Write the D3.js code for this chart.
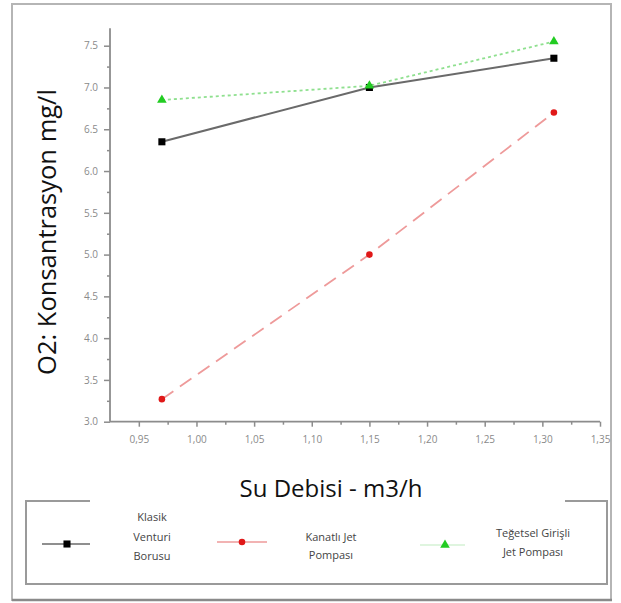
<!DOCTYPE html>
<html><head><meta charset="utf-8">
<script src="https://cdn.jsdelivr.net/npm/d3@7"></script>
<style>body{margin:0;background:#fff}svg{display:block}</style>
</head><body>
<svg id="c" width="621" height="603"></svg>
<script>
const xValues = [0.97, 1.15, 1.31];
const klasik = [6.35, 7.0, 7.35];
const kanatli = [3.27, 5.0, 6.7];
const tegetsel = [6.85, 7.02, 7.55];
const xTicks = [0.95, 1.00, 1.05, 1.10, 1.15, 1.20, 1.25, 1.30, 1.35];
const yTicks = [3.0, 3.5, 4.0, 4.5, 5.0, 5.5, 6.0, 6.5, 7.0, 7.5];
const seriesNames = [["Klasik", "Venturi", "Borusu"], ["Kanatlı Jet", "Pompası"], ["Teğetsel Girişli", "Jet Pompası"]];

const svg = d3.select("#c");
const font = "'Open Sans', sans-serif";

// outer frame
svg.append("rect").attr("x", 12).attr("y", 4).attr("width", 599).attr("height", 596)
  .attr("fill", "none").attr("stroke", "#b5b5b5").attr("stroke-width", 2);
svg.append("line").attr("x1", 12).attr("x2", 612).attr("y1", 600).attr("y2", 600)
  .attr("stroke", "#8a8a8a").attr("stroke-width", 2.5);

const x = d3.scaleLinear().domain([0.925, 1.35]).range([110, 600]);
const y = d3.scaleLinear().domain([3.0, 7.5]).range([421.7, 45.7]);

const axisColor = "#8c8c8c";
// x axis
const gx = svg.append("g").attr("transform", `translate(0,${y(3.0)})`);
gx.call(d3.axisBottom(x).tickValues(xTicks).tickSize(5).tickPadding(9)
  .tickFormat(d => d3.format(".2f")(d).replace(".", ",")));
gx.append("g").call(d3.axisBottom(x).tickValues(d3.range(0.975, 1.35, 0.05)).tickSize(3).tickFormat(""));
// y axis
const gy = svg.append("g").attr("transform", `translate(${x(0.925)},0)`);
gy.call(d3.axisLeft(y).tickValues(yTicks).tickSize(6).tickPadding(6)
  .tickFormat(d => d3.format(".1f")(d)));
gy.append("g").call(d3.axisLeft(y).tickValues(d3.range(3.25, 7.6, 0.5)).tickSize(3).tickFormat(""));
[gx, gy].forEach(g => {
  g.selectAll(".domain").remove();
  g.selectAll("line").attr("stroke", axisColor).attr("stroke-width", 1.5);
  g.selectAll("text").attr("fill", "#8a8a8a").style("font-family", font).style("font-size", "10px");
});
svg.append("line").attr("x1", x(0.925)).attr("x2", x(1.35)).attr("y1", y(3.0)).attr("y2", y(3.0))
  .attr("stroke", axisColor).attr("stroke-width", 1.8);
svg.append("line").attr("x1", x(0.925)).attr("x2", x(0.925)).attr("y1", y(3.0)).attr("y2", y(7.71))
  .attr("stroke", axisColor).attr("stroke-width", 1.8);

// titles
svg.append("text").attr("x", 331).attr("y", 497).attr("text-anchor", "middle")
  .style("font-family", font).style("font-size", "24px").attr("fill", "#111").text("Su Debisi - m3/h");
svg.append("text").attr("transform", "translate(56,232) rotate(-90)").attr("text-anchor", "middle")
  .style("font-family", font).style("font-size", "25.5px").attr("fill", "#111").text("O2: Konsantrasyon mg/l");

// series
const series = [
  {vals: klasik, color: "#6a6a6a", dash: null, mcolor: "#000", shape: "square", width: 2},
  {vals: kanatli, color: "#ee9a9a", dash: "14,8", mcolor: "#e01818", shape: "circle", width: 1.8},
  {vals: tegetsel, color: "#8fe08f", dash: "3,3", mcolor: "#22cc22", shape: "triangle", width: 1.8}
];
const line = d3.line().x(d => x(d[0])).y(d => y(d[1]));
function marker(g, shape, color, cx, cy) {
  const sym = shape === "square" ? d3.symbolSquare : shape === "circle" ? d3.symbolCircle : d3.symbolTriangle;
  const size = shape === "square" ? 50 : shape === "circle" ? 34 : 40;
  g.append("path").attr("d", d3.symbol().type(sym).size(size)())
    .attr("transform", `translate(${cx},${cy})`).attr("fill", color);
}
series.forEach(s => {
  const pts = xValues.map((xv, i) => [xv, s.vals[i]]);
  svg.append("path").attr("d", line(pts)).attr("fill", "none").attr("stroke", s.color)
    .attr("stroke-width", s.width).attr("stroke-dasharray", s.dash);
  pts.forEach(p => marker(svg, s.shape, s.mcolor, x(p[0]), y(p[1])));
});

// legend box
const lg = svg.append("g");
lg.append("path").attr("d", "M90,501 H26 V584 H607 V501 H565").attr("fill", "none")
  .attr("stroke", "#9a9a9a").attr("stroke-width", 2);
const legendItems = [
  {lx1: 42, lx2: 90, mx: 67, my: 544, tx: 152, ty: [517, 537, 556]},
  {lx1: 217, lx2: 267, mx: 242, my: 542, tx: 331, ty: [537, 555]},
  {lx1: 420, lx2: 465, mx: 445, my: 545, tx: 533, ty: [533, 552]}
];
legendItems.forEach((L, i) => {
  const s = series[i];
  lg.append("line").attr("x1", L.lx1).attr("x2", L.lx2).attr("y1", L.my).attr("y2", L.my)
    .attr("stroke", i === 2 ? "#d4f2d4" : s.color).attr("stroke-width", 1.5);
  marker(lg, s.shape, s.mcolor, L.mx, L.my);
  seriesNames[i].forEach((t, j) => {
    lg.append("text").attr("x", L.tx).attr("y", L.ty[j]).attr("dy", "0.35em").attr("text-anchor", "middle")
      .style("font-family", font).style("font-size", "11px").attr("fill", "#444").text(t);
  });
});
</script>
</body></html>
